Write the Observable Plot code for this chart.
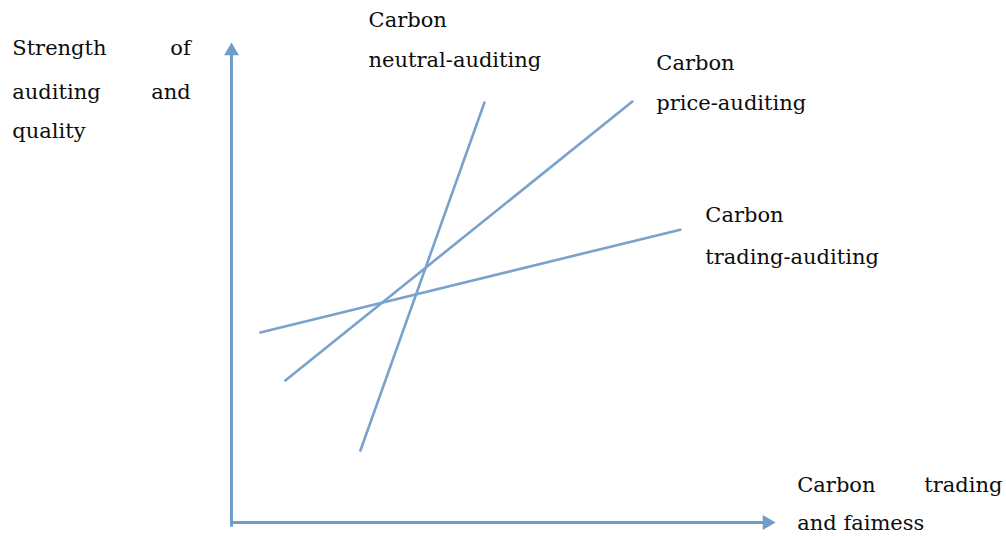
<!DOCTYPE html>
<html>
<head>
<meta charset="utf-8">
<script src="https://cdn.jsdelivr.net/npm/d3@7"></script>
<script src="https://cdn.jsdelivr.net/npm/@observablehq/plot@0.6"></script>
<style>
  html, body { margin: 0; padding: 0; background: #fff; }
  svg { display: block; }
</style>
</head>
<body>
<div id="chart"></div>
<script>
// Series: line segments in conceptual units (x: carbon trading and fairness, y: strength of auditing and quality)
const seriesNames = ["Carbon neutral-auditing", "Carbon price-auditing", "Carbon trading-auditing"];
const seriesStart = [[2.37, 1.50], [0.99, 2.96], [0.53, 3.96]];
const seriesEnd   = [[4.65, 8.75], [7.37, 8.77], [8.25, 6.10]];

// Text labels (word, anchor position in data units, text anchor)
const labelText   = ["Strength", "of", "auditing", "and", "quality",
                     "Carbon", "neutral-auditing",
                     "Carbon", "price-auditing",
                     "Carbon", "trading-auditing",
                     "Carbon", "trading", "and faimess"];
const labelX      = [-4.03, -0.75, -4.03, -0.75, -4.03,
                     2.52, 2.52,
                     7.81, 7.81,
                     8.71, 8.71,
                     10.40, 14.17, 10.40];
const labelY      = [9.87, 9.87, 8.96, 8.96, 8.15,
                     10.47, 9.62,
                     9.56, 8.73,
                     6.40, 5.52,
                     0.77, 0.77, -0.02];
const labelAnchor = ["start", "end", "start", "end", "start",
                     "start", "start", "start", "start", "start", "start",
                     "start", "end", "start"];

const lines = seriesNames.flatMap((name, i) => [
  {name, x: seriesStart[i][0], y: seriesStart[i][1]},
  {name, x: seriesEnd[i][0], y: seriesEnd[i][1]}
]);
const labels = labelText.map((t, i) => ({t, x: labelX[i], y: labelY[i], a: labelAnchor[i]}));

const lineColor = "#79a2cc";
const axisColor = "#719cc8";

const textMark = (anchor) => Plot.text(labels.filter(d => d.a === anchor), {
  x: "x", y: "y", text: "t", textAnchor: anchor, lineAnchor: "middle",
  fill: "#0d0d0d", fontSize: 21, fontFamily: "DejaVu Serif"
});

const chart = Plot.plot({
  width: 1006,
  height: 536,
  marginLeft: 231,
  marginRight: 231,
  marginTop: 42,
  marginBottom: 14,
  x: {domain: [0, 10], axis: null},
  y: {domain: [0, 10], axis: null},
  style: {background: "#fff", overflow: "visible"},
  marks: [
    Plot.ruleX([0], {y1: -0.1, y2: 9.8, stroke: axisColor, strokeWidth: 3}),
    Plot.ruleY([0], {x1: 0, x2: 9.8, stroke: axisColor, strokeWidth: 3}),
    Plot.dot([{x: 0, y: 10}], {x: "x", y: "y", symbol: "triangle", r: 5.5, fill: axisColor, stroke: "none", dy: 8.5}),
    Plot.dot([{x: 10, y: 0}], {x: "x", y: "y", symbol: "triangle", r: 5.5, fill: axisColor, stroke: "none", rotate: 90, dx: -8.5}),
    Plot.line(lines, {x: "x", y: "y", z: "name", stroke: lineColor, strokeWidth: 2.6}),
    textMark("start"),
    textMark("end")
  ]
});
document.getElementById("chart").appendChild(chart);
</script>
</body>
</html>
